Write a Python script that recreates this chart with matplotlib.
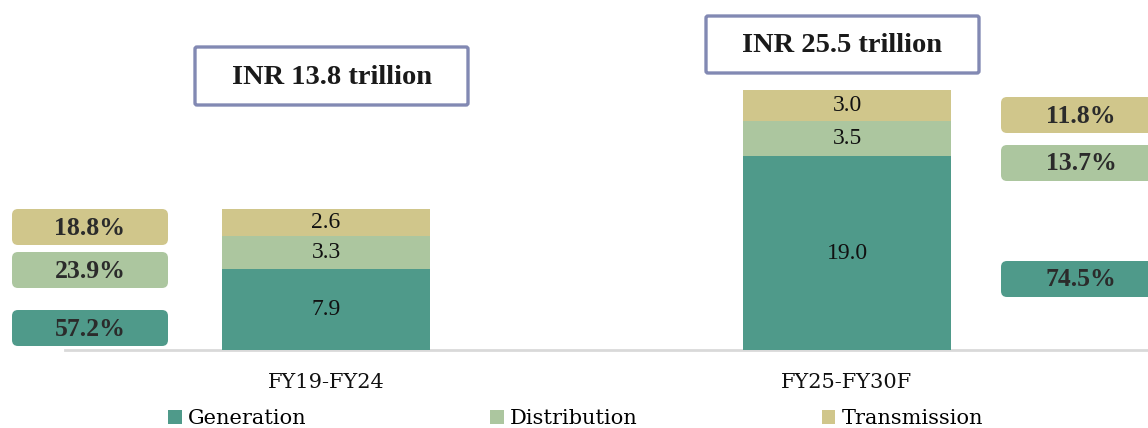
import matplotlib
matplotlib.use("Agg")
import matplotlib.pyplot as plt
from matplotlib.patches import FancyBboxPatch, Patch

plt.rcParams['font.family'] = ['Liberation Serif', 'DejaVu Serif']

# ---- data ----
categories = ["FY19-FY24", "FY25-FY30F"]
series_names = ["Generation", "Distribution", "Transmission"]
generation = [7.9, 19.0]
distribution = [3.3, 3.5]
transmission = [2.6, 3.0]
totals_labels = ["INR 13.8 trillion", "INR 25.5 trillion"]
share_left = ["57.2%", "23.9%", "18.8%"]    # Generation, Distribution, Transmission
share_right = ["74.5%", "13.7%", "11.8%"]

colors = ["#4f9a8a", "#acc69f", "#d0c68b"]

W, H = 1148, 428
fig = plt.figure(figsize=(W / 100, H / 100), dpi=100)

# main axes: full width, baseline at pixel y=350
base_px = 350
ax = fig.add_axes([0, (H - base_px) / H, 1, base_px / H])
px_per_unit_x = 521.0
center0 = 326.0
ax.set_xlim(-center0 / px_per_unit_x, (W - center0) / px_per_unit_x)
ax.set_ylim(0, base_px / 10.2)
for s in ax.spines.values():
    s.set_visible(False)
ax.set_xticks([])
ax.set_yticks([])

x = list(range(len(categories)))
bw = 208 / px_per_unit_x
bottoms = [0.0] * len(categories)
for vals, col in zip([generation, distribution, transmission], colors):
    ax.bar(x, vals, width=bw, bottom=bottoms, color=col, edgecolor='none', zorder=2)
    for xi, v, b in zip(x, vals, bottoms):
        ax.text(xi, b + v / 2, f"{v:.1f}", ha='center', va='center',
                fontsize=17, color='#111111', zorder=3)
    bottoms = [b + v for b, v in zip(bottoms, vals)]

# baseline
ax.plot([(65 - center0) / px_per_unit_x, (W - center0) / px_per_unit_x], [0, 0],
        color='#d9d9d9', lw=2, zorder=1, clip_on=False)

# category labels
for xi, c in zip(x, categories):
    fig.text((center0 + xi * px_per_unit_x) / W, 1 - 383 / H, c,
             ha='center', va='center', fontsize=15, color='#111111',
             family='DejaVu Serif')

# overlay axes in pixel coordinates for annotation boxes
ov = fig.add_axes([0, 0, 1, 1])
ov.set_xlim(0, W)
ov.set_ylim(H, 0)
ov.axis('off')
ov.patch.set_alpha(0)

def share_box(x0, y0, w, h, color, txt):
    p = FancyBboxPatch((x0, y0), w, h, boxstyle="round,pad=0,rounding_size=6",
                       facecolor=color, edgecolor='none')
    ov.add_patch(p)
    ov.text(x0 + w / 2, y0 + h / 2 + 1, txt, ha='center', va='center',
            fontsize=18.5, fontweight='bold', color='#2b2b2b')

left_boxes_y = [310, 252, 209]
right_boxes_y = [261, 145, 97]
for yb, col, t in zip(left_boxes_y, colors, share_left):
    share_box(12, yb, 156, 36, col, t)
for yb, col, t in zip(right_boxes_y, colors, share_right):
    share_box(1001, yb, 160, 36, col, t)

def title_box(x0, y0, w, h, txt):
    p = FancyBboxPatch((x0, y0), w, h, boxstyle="round,pad=0,rounding_size=2",
                       facecolor='white', edgecolor='#8289b3', linewidth=2.4)
    ov.add_patch(p)
    ov.text(x0 + w / 2, y0 + h / 2 + 1, txt, ha='center', va='center',
            fontsize=20.5, fontweight='bold', color='#1a1a1a')

title_box(195, 47, 273, 58, totals_labels[0])
title_box(706, 16, 273, 57, totals_labels[1])

# legend
handles = [Patch(facecolor=c, edgecolor='none') for c in colors]
fig.legend(handles, series_names, loc='lower left',
           bbox_to_anchor=(168 / W, 0.0, (983 - 168) / W, 30 / H),
           mode='expand', ncol=3, frameon=False,
           prop={'family': 'DejaVu Serif', 'size': 15},
           handlelength=0.65, handleheight=0.65, handletextpad=0.3,
           borderaxespad=0.0, borderpad=0.0)

fig.savefig("out.png", dpi=100)
